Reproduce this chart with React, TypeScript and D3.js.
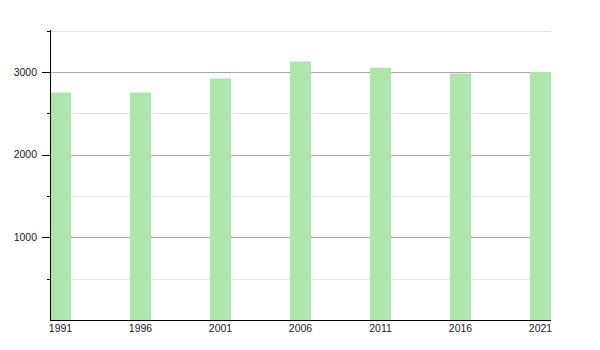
import React from "react";
import * as d3 from "d3";

const years = ["1991", "1996", "2001", "2006", "2011", "2016", "2021"];
const population = [2750, 2750, 2920, 3125, 3050, 2980, 3000];
const majorTicks = [1000, 2000, 3000];
const minorTicks = [500, 1500, 2500, 3500];

const W = 600;
const H = 350;
const left = 50;
const right = 551;
const top = 30;
const bottom = 320;
const barW = 21;

export default function App() {
  const x = d3.scaleBand<string>().domain(years).range([left, left + 80 * years.length]).padding(0);
  const y = d3.scaleLinear().domain([0, 3500]).range([bottom, top + 0.5]);
  const font = "Liberation Sans, Arial, sans-serif";
  return (
    <svg
      width={W}
      height={H}
      style={{ position: "absolute", left: 0, top: 0, background: "#fff" }}
      fontFamily={font}
    >
      {minorTicks.map((t) => (
        <g key={"m" + t}>
          <line x1={left} x2={right} y1={Math.round(y(t)) + 0.5} y2={Math.round(y(t)) + 0.5} stroke="#e4e4e4" />
          <line x1={left - 3} x2={left} y1={Math.round(y(t)) + 0.5} y2={Math.round(y(t)) + 0.5} stroke="#000" />
        </g>
      ))}
      {majorTicks.map((t) => (
        <g key={"M" + t}>
          <line x1={left} x2={right} y1={Math.round(y(t)) + 0.5} y2={Math.round(y(t)) + 0.5} stroke="#a8a8a8" />
          <line x1={left - 8} x2={left} y1={Math.round(y(t)) + 0.5} y2={Math.round(y(t)) + 0.5} stroke="#000" />
          <text x={37} y={y(t)} dy="0.35em" textAnchor="end" fontSize={10.5} fill="#222">
            {t}
          </text>
        </g>
      ))}
      {years.map((yr, i) => (
        <rect
          key={yr}
          x={x(yr)!}
          y={y(population[i])}
          width={barW}
          height={bottom - y(population[i])}
          fill="#aee5ad"
        />
      ))}
      <line x1={left + 0.5} x2={left + 0.5} y1={top} y2={bottom + 1} stroke="#000" />
      <line x1={left} x2={right} y1={bottom + 0.5} y2={bottom + 0.5} stroke="#000" />
      {years.map((yr) => (
        <text
          key={"l" + yr}
          x={x(yr)! + barW / 2}
          y={bottom + 12}
          textAnchor="middle"
          fontSize={10.5}
          fill="#222"
        >
          {yr}
        </text>
      ))}
    </svg>
  );
}
